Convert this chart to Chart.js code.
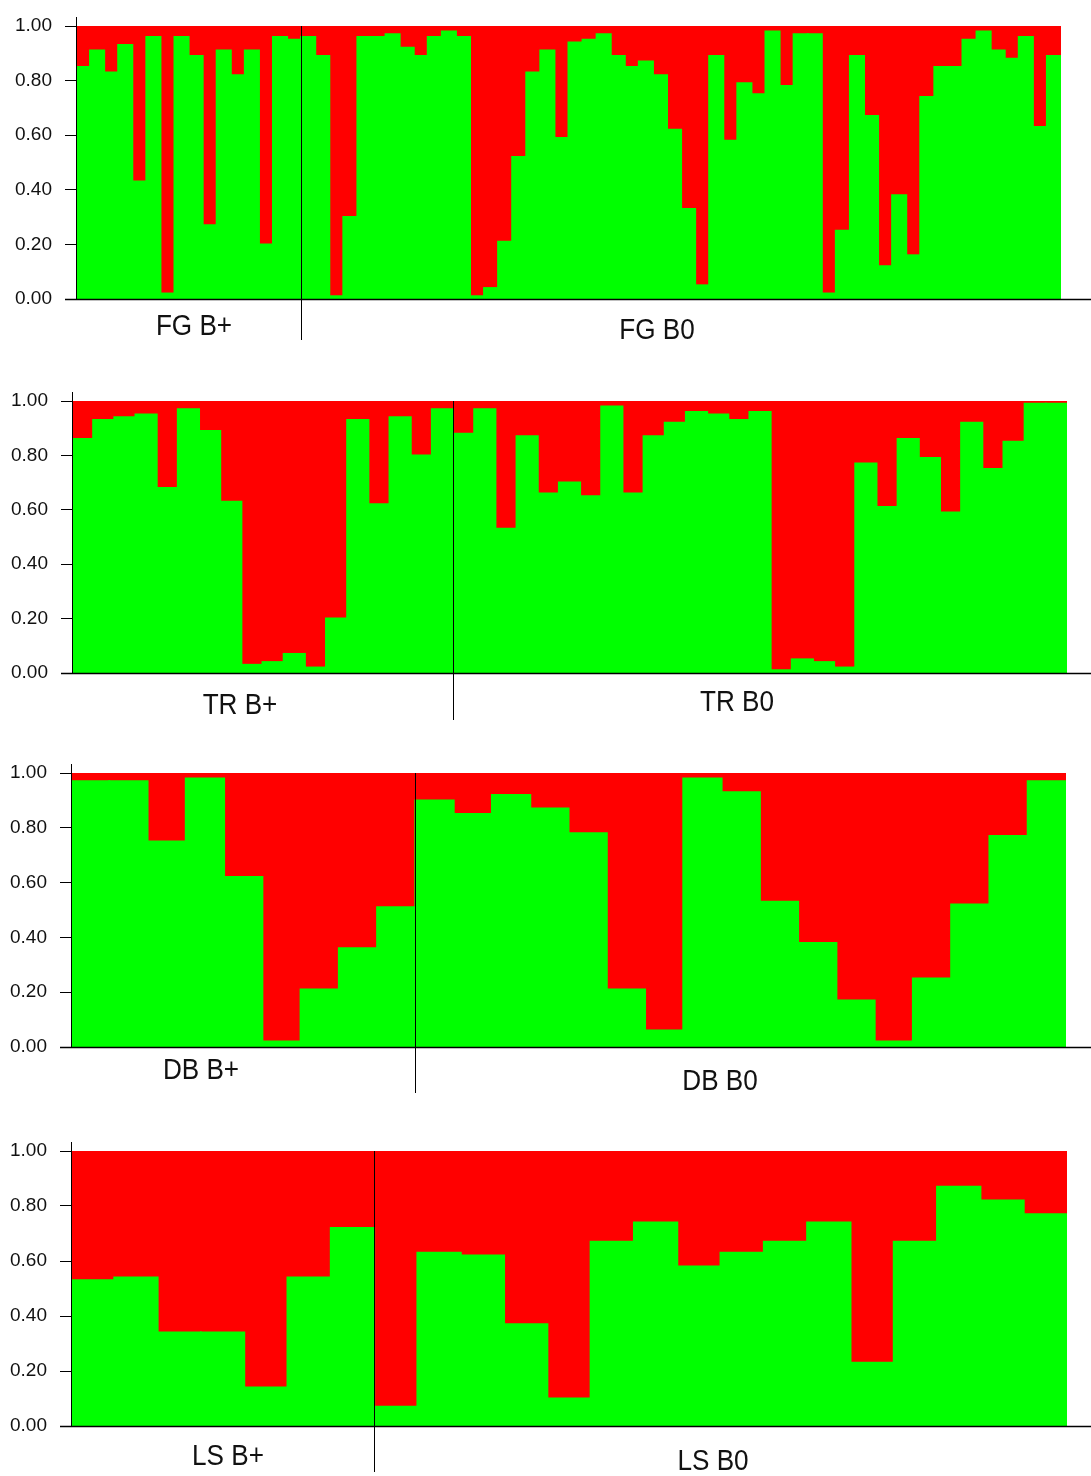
<!DOCTYPE html>
<html>
<head>
<meta charset="utf-8">
<script src="https://cdn.jsdelivr.net/npm/chart.js@4/dist/chart.umd.min.js"></script>
<style>
  body { margin: 0; background: #fff; }
  .panel { position: absolute; left: 0; width: 1091px; }
</style>
</head>
<body>
<div class="panel" id="p1"><canvas id="c1"></canvas></div>
<div class="panel" id="p2"><canvas id="c2"></canvas></div>
<div class="panel" id="p3"><canvas id="c3"></canvas></div>
<div class="panel" id="p4"><canvas id="c4"></canvas></div>
<script>
// green = share of cluster 1 for each individual, red is the rest
var fgBplus = [0.85, 0.91, 0.83, 0.93, 0.43, 0.96, 0.02, 0.96, 0.89, 0.27, 0.91, 0.82, 0.91, 0.20, 0.96, 0.95];
var fgB0 = [0.96, 0.89, 0.01, 0.30, 0.96, 0.96, 0.97, 0.92, 0.89, 0.96, 0.98, 0.96, 0.01, 0.04, 0.21, 0.52,
            0.83, 0.91, 0.59, 0.94, 0.95, 0.97, 0.89, 0.85, 0.87, 0.82, 0.62, 0.33, 0.05, 0.89, 0.58, 0.79,
            0.75, 0.98, 0.78, 0.97, 0.97, 0.02, 0.25, 0.89, 0.67, 0.12, 0.38, 0.16, 0.74, 0.85, 0.85, 0.95,
            0.98, 0.91, 0.88, 0.96, 0.63, 0.89];

var trBplus = [0.86, 0.93, 0.94, 0.95, 0.68, 0.97, 0.89, 0.63, 0.03, 0.04, 0.07, 0.02, 0.20, 0.93, 0.62, 0.94, 0.80, 0.97];
var trB0 = [0.88, 0.97, 0.53, 0.87, 0.66, 0.70, 0.65, 0.98, 0.66, 0.87, 0.92, 0.96, 0.95, 0.93, 0.96,
            0.01, 0.05, 0.04, 0.02, 0.77, 0.61, 0.86, 0.79, 0.59, 0.92, 0.75, 0.85, 0.99, 0.99];

var dbBplus = [0.97, 0.97, 0.75, 0.98, 0.62, 0.02, 0.21, 0.36, 0.51];
var dbB0 = [0.90, 0.85, 0.92, 0.87, 0.78, 0.21, 0.06, 0.98, 0.93, 0.53, 0.38, 0.17, 0.02, 0.25, 0.52, 0.77, 0.97];

var lsBplus = [0.53, 0.54, 0.34, 0.34, 0.14, 0.54, 0.72];
var lsB0 = [0.07, 0.63, 0.62, 0.37, 0.10, 0.67, 0.74, 0.58, 0.63, 0.67, 0.74, 0.23, 0.67, 0.87, 0.82, 0.77];

var yTicks = [0, 0.2, 0.4, 0.6, 0.8, 1.0];

// page layout for each panel (pixels)
var panels = [
  { id: 'c1', box: 'p1', names: ['FG B+', 'FG B0'], a: fgBplus, b: fgB0,
    top: 0, height: 360, area: [76, 1061, 26, 299], labels: [[194, 327], [657, 331]], sepDown: 41 },
  { id: 'c2', box: 'p2', names: ['TR B+', 'TR B0'], a: trBplus, b: trB0,
    top: 370, height: 365, area: [72, 1067, 401, 673], labels: [[240, 706], [737, 703]], sepDown: 47 },
  { id: 'c3', box: 'p3', names: ['DB B+', 'DB B0'], a: dbBplus, b: dbB0,
    top: 745, height: 365, area: [71, 1066, 773, 1047], labels: [[201, 1071], [720, 1082]], sepDown: 46 },
  { id: 'c4', box: 'p4', names: ['LS B+', 'LS B0'], a: lsBplus, b: lsB0,
    top: 1120, height: 356, area: [71, 1067, 1151, 1426], labels: [[228, 1457], [713, 1462]], sepDown: 46 }
];

var FONT = '"Liberation Sans", Arial, sans-serif';

var framePlugin = {
  id: 'frame',
  afterDraw: function (chart) {
    var p = chart.options.plugins.frame;
    var ctx = chart.ctx, ca = chart.chartArea, xs = chart.scales.x;
    ctx.save();
    ctx.strokeStyle = '#000';
    // x axis line running out to the page edge
    ctx.lineWidth = 1.5;
    ctx.beginPath();
    ctx.moveTo(ca.left - 11, ca.bottom + 0.5);
    ctx.lineTo(chart.width, ca.bottom + 0.5);
    ctx.stroke();
    // y axis line
    ctx.lineWidth = 1;
    ctx.beginPath();
    ctx.moveTo(ca.left + 0.5, ca.top - 9);
    ctx.lineTo(ca.left + 0.5, ca.bottom);
    ctx.stroke();
    // group separator
    var sx = Math.round((xs.getPixelForValue(p.split - 1) + xs.getPixelForValue(p.split)) / 2) + 0.5;
    ctx.beginPath();
    ctx.moveTo(sx, ca.top);
    ctx.lineTo(sx, ca.bottom + p.sepDown);
    ctx.stroke();
    // group names
    ctx.fillStyle = '#111';
    ctx.font = '29px ' + FONT;
    ctx.textAlign = 'center';
    ctx.textBaseline = 'middle';
    p.labels.forEach(function (l, i) {
      ctx.save();
      ctx.translate(l[0], l[1] - p.top);
      ctx.scale(0.9, 1);
      ctx.fillText(p.names[i], 0, 0);
      ctx.restore();
    });
    ctx.restore();
  }
};

panels.forEach(function (p) {
  var box = document.getElementById(p.box);
  box.style.top = p.top + 'px';
  box.style.height = p.height + 'px';

  var green = p.a.concat(p.b);
  var red = green.map(function (v) { return +(1 - v).toFixed(2); });
  var cats = green.map(function (v, i) { return i + 1; });

  new Chart(document.getElementById(p.id).getContext('2d'), {
    type: 'bar',
    data: {
      labels: cats,
      datasets: [
        { data: green, backgroundColor: '#00ff00', borderWidth: 0,
          inflateAmount: 1, barPercentage: 1, categoryPercentage: 1 },
        { data: red, backgroundColor: '#ff0000', borderWidth: 0,
          inflateAmount: 1, barPercentage: 1, categoryPercentage: 1 }
      ]
    },
    options: {
      responsive: true,
      maintainAspectRatio: false,
      animation: false,
      layout: {
        padding: {
          left: 0,
          right: 1091 - p.area[1],
          top: p.area[2] - p.top,
          bottom: p.top + p.height - p.area[3]
        }
      },
      plugins: {
        legend: { display: false },
        tooltip: { enabled: false },
        frame: { split: p.a.length, names: p.names, labels: p.labels, top: p.top, sepDown: p.sepDown }
      },
      scales: {
        x: { stacked: true, display: false },
        y: {
          stacked: true,
          min: 0,
          max: 1,
          afterFit: function (s) { s.width = p.area[0]; },
          afterBuildTicks: function (s) { s.ticks = yTicks.map(function (v) { return { value: v }; }); },
          ticks: {
            padding: 13,
            color: '#111',
            font: { family: FONT, size: 19 },
            callback: function (v) { return Number(v).toFixed(2); }
          },
          grid: { drawOnChartArea: false, drawTicks: true, tickLength: 11, color: '#000' },
          border: { display: false }
        }
      }
    },
    plugins: [framePlugin]
  });
});
</script>
</body>
</html>
